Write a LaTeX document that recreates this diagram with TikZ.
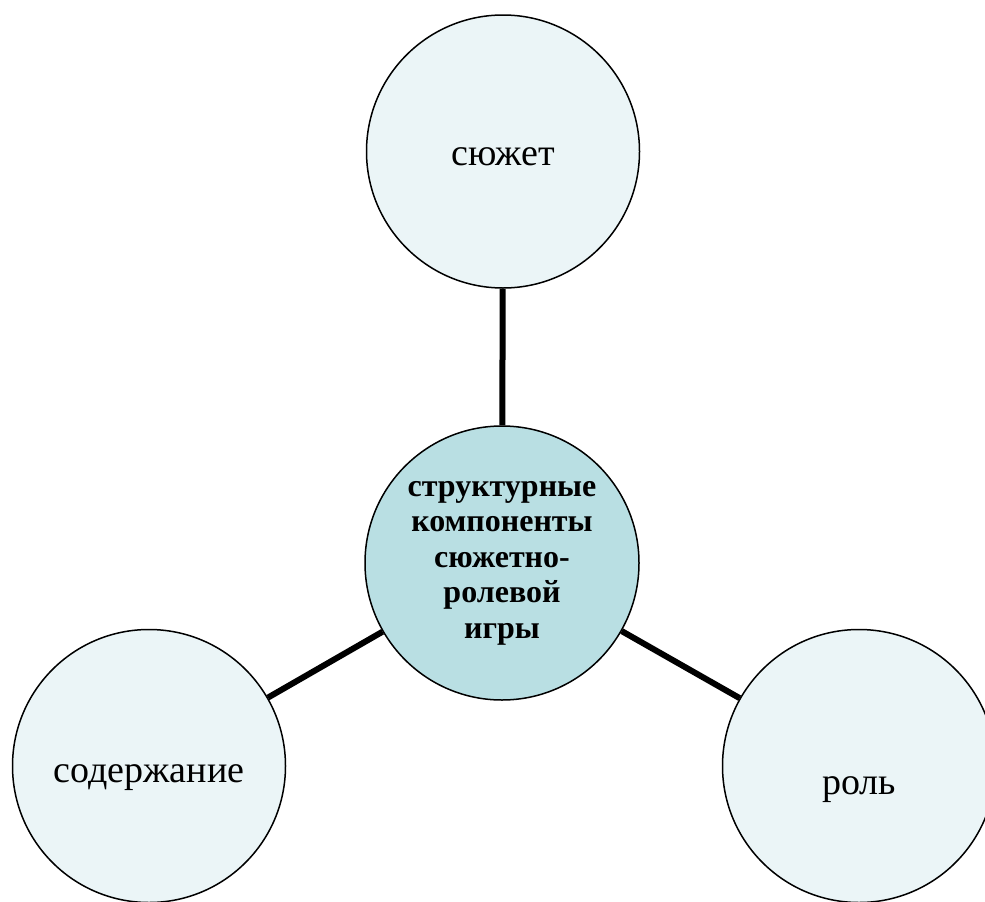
\documentclass[tikz,border=0pt]{standalone}
\usepackage{fontspec}
\setmainfont{Liberation Serif}
\definecolor{outerfill}{HTML}{EBF5F7}
\definecolor{centerfill}{HTML}{B9DFE3}
\begin{document}
\begin{tikzpicture}[x=1pt,y=-1pt,
  outer/.style={circle,draw=black,line width=1.5pt,fill=outerfill,minimum size=273pt,inner sep=0pt,text depth=0pt,font=\fontsize{38}{42}\selectfont},
  core/.style={circle,draw=black,line width=1.5pt,fill=centerfill,minimum size=274pt,inner sep=0pt,align=center,font=\fontsize{32}{35.5}\selectfont\bfseries},
  link/.style={line width=6pt,black}]
\useasboundingbox (0,0) rectangle (985,902);
\begin{scope}
\clip (0,0) rectangle (985,902);
\node[core] (c) at (502,563) {структурные\\компоненты\\сюжетно-\\ролевой\\игры};
\node[outer,text height=27pt] (t) at (503,151.5) {сюжет};
\node[outer,text height=32pt] (l) at (149,766) {содержание};
\node[outer,text height=56pt] (r) at (859,766) {роль};
\draw[link] (t) -- (c);
\draw[link] (l) -- (c);
\draw[link] (r) -- (c);
\end{scope}
\end{tikzpicture}
\end{document}
